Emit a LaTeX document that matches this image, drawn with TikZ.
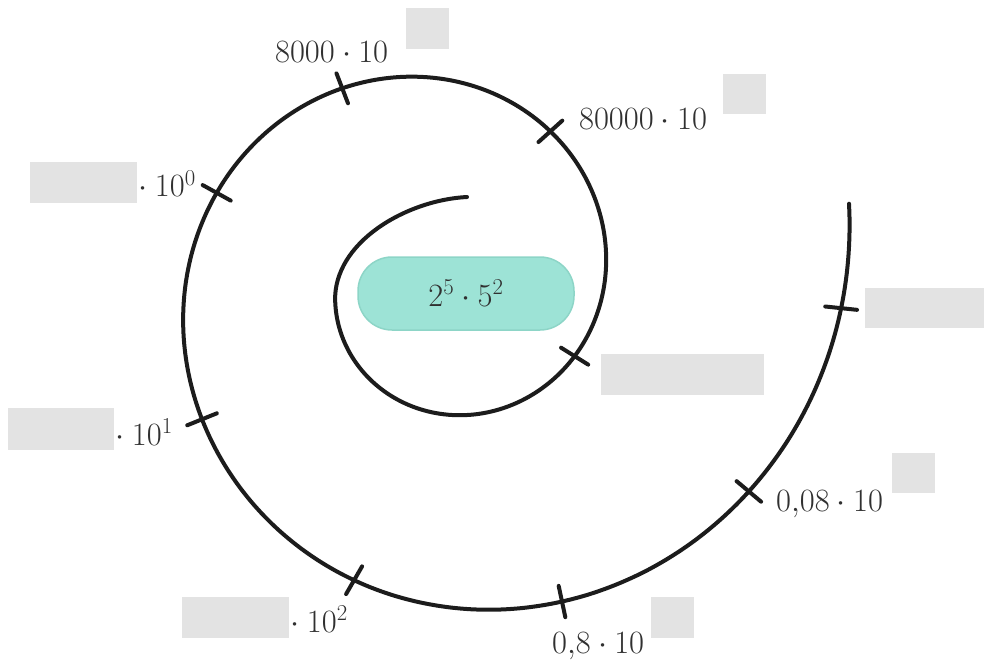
\RequirePackage{fix-cm}
\documentclass[tikz,border=0pt]{standalone}
\usetikzlibrary{calc}
\definecolor{ink}{HTML}{1C1C1C}
\definecolor{txt}{HTML}{303030}
\definecolor{blankgray}{HTML}{E3E3E3}
\definecolor{pillfill}{HTML}{9DE3D6}
\definecolor{pilldraw}{HTML}{8DD5C7}
\begin{document}
\begin{tikzpicture}[x=1pt,y=-1pt,
  declare function={rs(\t)=85.6*exp(0.0024793*(\t-98.1))*(1+0.016/(1+exp(-max(-8,min(8,(\t-600)/15)))));},
  spiral/.style={draw=ink, line width=4pt, line cap=round, line join=round},
  tickmark/.style={draw=ink, line width=4pt, line cap=round},
  lbl/.style={text=txt, inner sep=0pt, anchor=base west, font=\fontsize{32.5pt}{39pt}\selectfont},
  blank/.style={fill=blankgray, draw=none, inner sep=0pt},
  pill/.style={fill=pillfill, draw=pilldraw, line width=1.5pt, rounded corners=34pt,
    minimum width=216pt, minimum height=73pt, inner sep=0pt, text=txt,
    font=\fontsize{32.5pt}{39pt}\selectfont}]
\useasboundingbox (0,0) rectangle (984,660);

% spiral (logarithmic, centre 441,283)
\draw[spiral] (467,197) .. controls (407,200) and (333,242) .. (335.13,301.67)
  -- plot[domain=190:731, samples=300, smooth, variable=\t]
  ({441+rs(\t)*cos(\t)}, {283-rs(\t)*sin(\t)});

% tick marks
\foreach \t/\a/\n in {331.3/-32/1, 414.2/42/2, 476.9/111/3, 518.1/151/4, 569.7/202/5,
                      613.7/240/6, 650.8/282/7, 685.9/320/8, 716.4/-6/9} {
  \pgfmathsetmacro\rr{rs(\t)}
  \coordinate (t\n) at ({441+\rr*cos(\t)},{283-\rr*sin(\t)});
  \draw[tickmark] ($(t\n)+({16*cos(\a)},{-16*sin(\a)})$) -- ($(t\n)-({16*cos(\a)},{-16*sin(\a)})$);
}

% centre
\node[pill] (c) at (466,293.5) {$2^{5}\cdot 5^{2}$};

% labels
\node[lbl] (l2) at (579,130) {$80000\cdot 10$};
\node[lbl] (l3) at (275,63) {$8000\cdot 10$};
\node[lbl] (l4) at (138.5,197) {$\cdot\mkern4mu 10^{0}$};
\node[lbl] (l5) at (115.5,445) {$\cdot\mkern4mu 10^{1}$};
\node[lbl] (l6) at (290.5,632) {$\cdot\mkern4mu 10^{2}$};
\node[lbl] (l7) at (552,653) {$0{,}8\cdot 10$};
\node[lbl] (l8) at (776,511) {$0{,}08\cdot 10$};

% blanks
\node[blank, minimum width=163pt, minimum height=41pt] (b1) at (682.5,374.5) {};
\node[blank, minimum width=43pt, minimum height=40pt] (b2) at (744.5,94) {};
\node[blank, minimum width=43pt, minimum height=41pt] (b3) at (427.5,28.5) {};
\node[blank, minimum width=107pt, minimum height=41pt] (b4) at (83.5,182.5) {};
\node[blank, minimum width=106pt, minimum height=42pt] (b5) at (61,429) {};
\node[blank, minimum width=107pt, minimum height=41pt] (b6) at (235.5,617.5) {};
\node[blank, minimum width=43pt, minimum height=41pt] (b7) at (672.5,617.5) {};
\node[blank, minimum width=43pt, minimum height=40pt] (b8) at (913.5,473) {};
\node[blank, minimum width=119pt, minimum height=40pt] (b9) at (924.5,308) {};
\end{tikzpicture}
\end{document}
